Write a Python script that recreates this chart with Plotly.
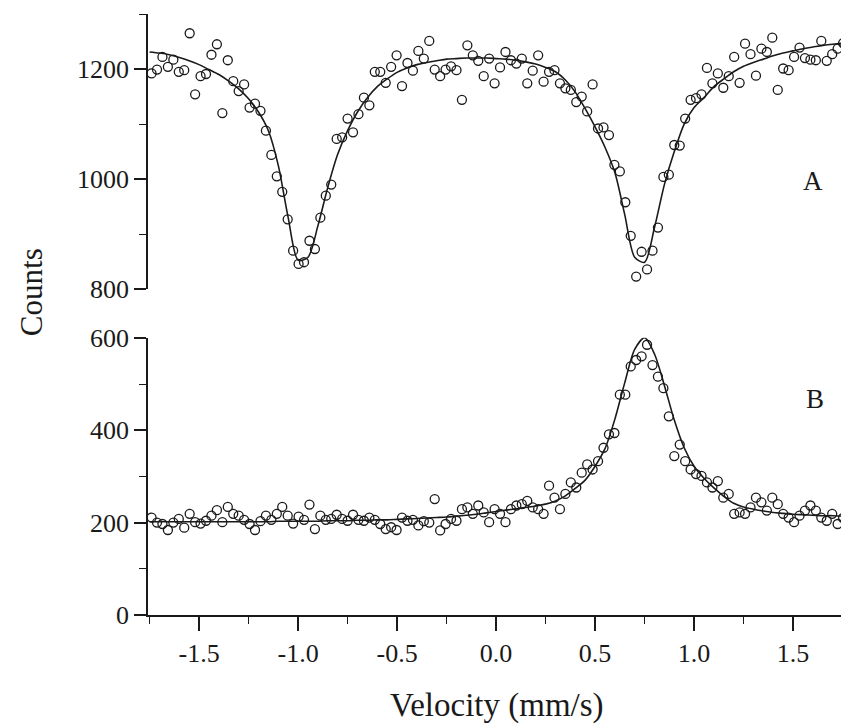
import plotly.graph_objects as go

# ---------------- data ----------------
velocity = [-1.74, -1.7125, -1.685, -1.6575, -1.63, -1.6025, -1.575, -1.5475, -1.52, -1.4925,
            -1.465, -1.4375, -1.41, -1.3825, -1.355, -1.3275, -1.3, -1.2725, -1.245, -1.2175,
            -1.19, -1.1625, -1.135, -1.1075, -1.08, -1.0525, -1.025, -0.9975, -0.97, -0.9425,
            -0.915, -0.8875, -0.86, -0.8325, -0.805, -0.7775, -0.75, -0.7225, -0.695, -0.6675,
            -0.64, -0.6125, -0.585, -0.5575, -0.53, -0.5025, -0.475, -0.4475, -0.42, -0.3925,
            -0.365, -0.3375, -0.31, -0.2825, -0.255, -0.2275, -0.2, -0.1725, -0.145, -0.1175,
            -0.09, -0.0625, -0.035, -0.0075, 0.02, 0.0475, 0.075, 0.1025, 0.13, 0.1575,
            0.185, 0.2125, 0.24, 0.2675, 0.295, 0.3225, 0.35, 0.3775, 0.405, 0.4325,
            0.46, 0.4875, 0.515, 0.5425, 0.57, 0.5975, 0.625, 0.6525, 0.68, 0.7075,
            0.735, 0.7625, 0.79, 0.8175, 0.845, 0.8725, 0.9, 0.9275, 0.955, 0.9825,
            1.01, 1.0375, 1.065, 1.0925, 1.12, 1.1475, 1.175, 1.2025, 1.23, 1.2575,
            1.285, 1.3125, 1.34, 1.3675, 1.395, 1.4225, 1.45, 1.4775, 1.505, 1.5325,
            1.56, 1.5875, 1.615, 1.6425, 1.67, 1.6975, 1.725, 1.7525]

counts_a = [1192, 1199, 1222, 1204, 1217, 1195, 1198, 1265, 1154, 1187,
            1191, 1226, 1245, 1120, 1216, 1178, 1160, 1172, 1130, 1137,
            1124, 1088, 1044, 1005, 977, 927, 870, 846, 849, 888,
            873, 930, 970, 990, 1073, 1076, 1110, 1085, 1118, 1148,
            1134, 1195, 1195, 1175, 1204, 1225, 1169, 1211, 1197, 1233,
            1219, 1251, 1199, 1187, 1199, 1205, 1198, 1144, 1243, 1225,
            1215, 1187, 1219, 1174, 1203, 1231, 1216, 1210, 1219, 1174,
            1197, 1225, 1177, 1195, 1198, 1174, 1165, 1162, 1140, 1150,
            1123, 1172, 1092, 1094, 1080, 1026, 1014, 958, 897, 823,
            868, 836, 870, 912, 1004, 1008, 1062, 1061, 1110, 1144,
            1147, 1154, 1202, 1174, 1192, 1166, 1187, 1222, 1175, 1246,
            1227, 1188, 1237, 1231, 1257, 1162, 1201, 1198, 1222, 1239,
            1220, 1217, 1216, 1251, 1215, 1227, 1237, 1247]

counts_b = [211, 200, 197, 184, 200, 208, 189, 219, 201, 198,
            204, 215, 227, 201, 234, 219, 215, 206, 197, 184,
            203, 215, 206, 219, 234, 215, 198, 213, 206, 239,
            186, 215, 206, 208, 217, 208, 204, 217, 206, 204,
            211, 206, 197, 186, 190, 184, 211, 204, 206, 194,
            203, 200, 251, 183, 197, 208, 204, 229, 233, 219,
            237, 222, 201, 229, 219, 201, 229, 237, 240, 247,
            233, 229, 219, 280, 254, 229, 262, 287, 276, 308,
            326, 315, 333, 362, 391, 394, 477, 477, 538, 552,
            560, 585, 541, 516, 491, 430, 344, 369, 333, 315,
            305, 301, 287, 276, 290, 254, 262, 219, 222, 219,
            233, 254, 244, 226, 254, 240, 219, 211, 201, 215,
            226, 237, 226, 211, 204, 219, 197, 210]

fit_velocity = [-1.75, -1.70, -1.65, -1.60, -1.55, -1.50, -1.45, -1.40, -1.35, -1.30,
                -1.25, -1.20, -1.15, -1.10, -1.05, -1.00, -0.95, -0.90, -0.85, -0.80,
                -0.75, -0.70, -0.65, -0.60, -0.55, -0.50, -0.45, -0.40, -0.35, -0.30,
                -0.25, -0.20, -0.15, -0.10, -0.05, 0.00, 0.05, 0.10, 0.15, 0.20,
                0.25, 0.30, 0.35, 0.40, 0.45, 0.50, 0.55, 0.60, 0.65, 0.70,
                0.75, 0.80, 0.85, 0.90, 0.95, 1.00, 1.05, 1.10, 1.15, 1.20,
                1.25, 1.30, 1.35, 1.40, 1.45, 1.50, 1.55, 1.60, 1.65, 1.70, 1.75]

fit_a = [1231, 1229, 1226, 1221, 1215, 1208, 1199, 1190, 1178, 1164,
         1146, 1122, 1088, 1025, 930, 853, 858, 915, 985, 1045,
         1088, 1122, 1148, 1168, 1182, 1194, 1202, 1208, 1212, 1215,
         1218, 1219, 1220, 1220, 1220, 1219, 1218, 1216, 1213, 1209,
         1203, 1195, 1180, 1158, 1128, 1095, 1058, 1012, 935, 858,
         849, 912, 990, 1050, 1100, 1130, 1148, 1168, 1182, 1195,
         1205, 1212, 1218, 1224, 1229, 1233, 1237, 1240, 1243, 1245, 1247]

fit_b = [202, 202, 202, 202, 202, 202, 202, 202, 202, 202,
         202, 202, 202, 203, 203, 203, 203, 203, 204, 204,
         204, 205, 205, 206, 206, 207, 208, 209, 210, 211,
         212, 214, 216, 218, 221, 224, 227, 230, 233, 236,
         240, 247, 258, 274, 292, 322, 360, 424, 503, 575,
         600, 565, 497, 422, 362, 322, 296, 275, 257, 242,
         234, 229, 225, 222, 220, 218, 217, 216, 215, 215, 214]

x_tickvals = [-1.5, -1.0, -0.5, 0.0, 0.5, 1.0, 1.5]
x_ticktext = ["-1.5", "-1.0", "-0.5", "0.0", "0.5", "1.0", "1.5"]
x_minorvals = [-1.75, -1.25, -0.75, -0.25, 0.25, 0.75, 1.25, 1.75]
ya_tickvals = [800, 1000, 1200]
ya_minorvals = [900, 1100, 1300]
yb_tickvals = [0, 200, 400, 600]
yb_minorvals = [100, 300, 500]

# ---------------- figure ----------------
INK = "#1a1a1a"
FONT = "Liberation Serif"

fig = go.Figure()

marker = dict(symbol="circle-open", size=9, color=INK, line=dict(width=1.3, color=INK))

fig.add_trace(go.Scatter(x=velocity, y=counts_a, mode="markers", marker=marker,
                         xaxis="x2", yaxis="y2", showlegend=False))
fig.add_trace(go.Scatter(x=fit_velocity, y=fit_a, mode="lines",
                         line=dict(color=INK, width=1.6, shape="spline", smoothing=0.8),
                         xaxis="x2", yaxis="y2", showlegend=False))
fig.add_trace(go.Scatter(x=velocity, y=counts_b, mode="markers", marker=marker,
                         xaxis="x", yaxis="y", showlegend=False))
fig.add_trace(go.Scatter(x=fit_velocity, y=fit_b, mode="lines",
                         line=dict(color=INK, width=1.6, shape="spline", smoothing=0.8),
                         xaxis="x", yaxis="y", showlegend=False))

xrange = [-1.758, 1.742]
bot_dom = [0, 0.4612]
top_dom = [0.5421, 1]

plot_w = 841 - 148
plot_h = 725 - 10 - 110


def px_to_paper(px, py):
    return (px - 148) / plot_w, (725 - 110 - py) / plot_h


cx, cy = px_to_paper(31, 290)
vx, vy = px_to_paper(497, 706)

fig.update_layout(
    width=841, height=725,
    margin=dict(l=148, r=0, t=10, b=110),
    paper_bgcolor="white", plot_bgcolor="white",
    font=dict(family=FONT, color=INK, size=26),
    xaxis=dict(domain=[0, 1], range=xrange, anchor="y",
               showline=True, linecolor=INK, linewidth=1.8,
               ticks="outside", ticklen=14, tickwidth=1.6, tickcolor=INK,
               tickmode="array", tickvals=x_tickvals, ticktext=x_ticktext,
               minor=dict(ticks="outside", ticklen=7, tickwidth=1.4, tickcolor=INK,
                          tickmode="array", tickvals=x_minorvals),
               showgrid=False, zeroline=False,
               tickfont=dict(family=FONT, size=26, color=INK)),
    yaxis=dict(domain=bot_dom, range=[0, 600], anchor="x",
               showline=True, linecolor=INK, linewidth=1.8,
               ticks="outside", ticklen=12, tickwidth=1.6, tickcolor=INK,
               tickmode="array", tickvals=yb_tickvals,
               minor=dict(ticks="outside", ticklen=7, tickwidth=1.4, tickcolor=INK,
                          tickmode="array", tickvals=yb_minorvals),
               showgrid=False, zeroline=False,
               tickfont=dict(family=FONT, size=26, color=INK)),
    xaxis2=dict(domain=[0, 1], range=xrange, anchor="y2", visible=False),
    yaxis2=dict(domain=top_dom, range=[800, 1300], anchor="x2",
                showline=True, linecolor=INK, linewidth=1.8,
                ticks="outside", ticklen=12, tickwidth=1.6, tickcolor=INK,
                tickmode="array", tickvals=ya_tickvals,
                minor=dict(ticks="outside", ticklen=7, tickwidth=1.4, tickcolor=INK,
                           tickmode="array", tickvals=ya_minorvals),
                showgrid=False, zeroline=False,
                tickfont=dict(family=FONT, size=26, color=INK)),
    annotations=[
        dict(text="A", x=1.60, y=997, xref="x2", yref="y2", showarrow=False,
             xanchor="center", yanchor="middle",
             font=dict(family=FONT, size=27, color=INK)),
        dict(text="B", x=1.61, y=467, xref="x", yref="y", showarrow=False,
             xanchor="center", yanchor="middle",
             font=dict(family=FONT, size=27, color=INK)),
        dict(text="Counts", x=cx, y=cy, xref="paper", yref="paper", showarrow=False,
             xanchor="center", yanchor="middle",
             textangle=-90, font=dict(family=FONT, size=31, color=INK)),
        dict(text="Velocity (mm/s)", x=vx, y=vy, xref="paper", yref="paper",
             xanchor="center", yanchor="middle",
             showarrow=False, font=dict(family=FONT, size=33, color=INK)),
    ],
)

fig.write_html("out.html")
